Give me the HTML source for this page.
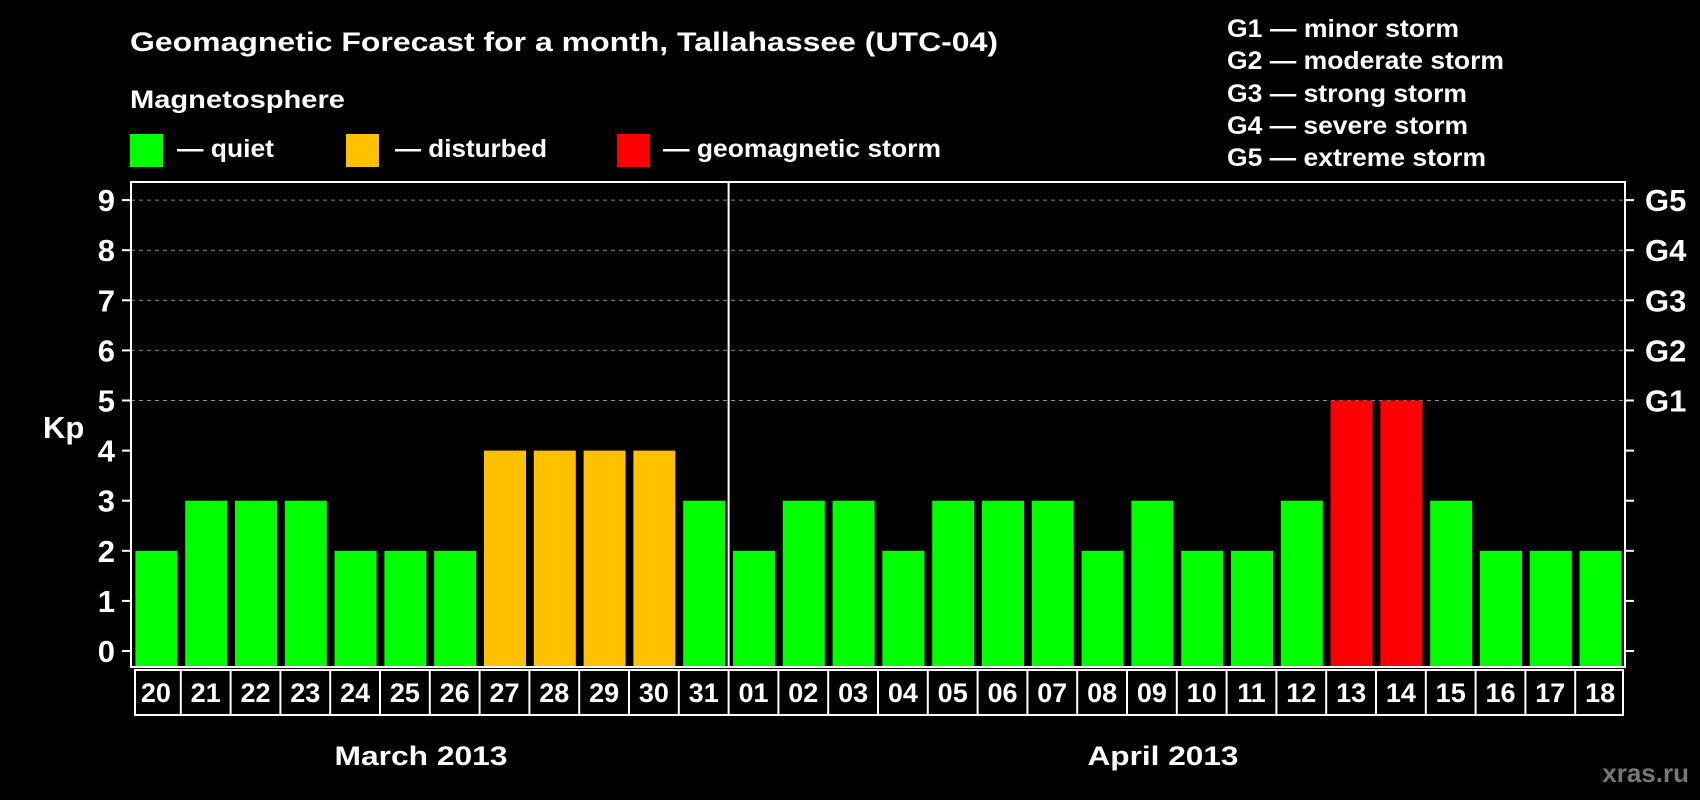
<!DOCTYPE html>
<html><head><meta charset="utf-8"><style>
html,body{margin:0;padding:0;background:#000;}
svg{display:block;font-family:"Liberation Sans",Arial,sans-serif;font-weight:bold;}
</style></head><body>
<svg id="chart" width="1700" height="800" viewBox="0 0 1700 800" xmlns="http://www.w3.org/2000/svg">
<rect width="1700" height="800" fill="#000"/>
<text x="130" y="51" font-size="27" fill="#fff" textLength="868" lengthAdjust="spacingAndGlyphs">Geomagnetic Forecast for a month, Tallahassee (UTC-04)</text>
<text x="130" y="108" font-size="25" fill="#fff" textLength="215" lengthAdjust="spacingAndGlyphs">Magnetosphere</text>
<g>
<rect x="130" y="134" width="33" height="33" fill="#00ff00"/>
<text x="177" y="157" font-size="25" fill="#fff" textLength="97" lengthAdjust="spacingAndGlyphs">— quiet</text></g>
<g>
<rect x="346" y="134" width="33" height="33" fill="#ffc000"/>
<text x="395" y="157" font-size="25" fill="#fff" textLength="152" lengthAdjust="spacingAndGlyphs">— disturbed</text></g>
<g>
<rect x="617" y="134" width="33" height="33" fill="#ff0000"/>
<text x="663" y="157" font-size="25" fill="#fff" textLength="278" lengthAdjust="spacingAndGlyphs">— geomagnetic storm</text></g>
<g font-size="25" fill="#fff">
<text x="1227" y="37" textLength="232" lengthAdjust="spacingAndGlyphs">G1 — minor storm</text>
<text x="1227" y="69" textLength="277" lengthAdjust="spacingAndGlyphs">G2 — moderate storm</text>
<text x="1227" y="102" textLength="240" lengthAdjust="spacingAndGlyphs">G3 — strong storm</text>
<text x="1227" y="134" textLength="241" lengthAdjust="spacingAndGlyphs">G4 — severe storm</text>
<text x="1227" y="166" textLength="259" lengthAdjust="spacingAndGlyphs">G5 — extreme storm</text>
</g>
<text x="43" y="438" font-size="31" fill="#fff">Kp</text>
<g id="plot"></g>
<text x="421" y="765" font-size="27" fill="#fff" text-anchor="middle" textLength="173" lengthAdjust="spacingAndGlyphs">March 2013</text>
<text x="1163" y="765" font-size="27" fill="#fff" text-anchor="middle" textLength="151" lengthAdjust="spacingAndGlyphs">April 2013</text>
<text x="1689" y="782" font-size="26" fill="#777" text-anchor="end">xras.ru</text>
</svg>
<script>
const days = ["20","21","22","23","24","25","26","27","28","29","30","31","01","02","03","04","05","06","07","08","09","10","11","12","13","14","15","16","17","18","19"].slice(0,30);
const kpValues = [2,3,3,3,2,2,2,4,4,4,4,3,2,3,3,2,3,3,3,2,3,2,2,3,5,5,3,2,2,2];
const yTicks = [0,1,2,3,4,5,6,7,8,9];
const gLabels = ["G1","G2","G3","G4","G5"];
const gLevels = [5,6,7,8,9];

const NS = "http://www.w3.org/2000/svg";
const plot = document.getElementById("plot");
const L = 131, R = 1625, T = 182, B = 667;
const pitch = (R - L) / days.length;
function y(v){ return 651 - 50.1 * v; }
function xs(i){ return L + i * pitch + (pitch - 42) / 2 + 0.5; }
function mk(tag, attrs){ const e = document.createElementNS(NS, tag); for (const k in attrs) e.setAttribute(k, attrs[k]); plot.appendChild(e); return e; }
function color(v){ return v >= 5 ? "#ff0000" : v >= 4 ? "#ffc000" : "#00ff00"; }

yTicks.forEach(v => {
  if (v >= 5) {
    const g = mk("line", {x1: L, x2: R, y1: y(v), y2: y(v), stroke: "#888", "stroke-width": 1, "stroke-dasharray": "4,4"});
    
    
  }
  const t1 = mk("line", {x1: L - 9, x2: L, y1: y(v), y2: y(v), stroke: "#fff", "stroke-width": 2});
  
  
  const t2 = mk("line", {x1: R, x2: R + 9, y1: y(v), y2: y(v), stroke: "#fff", "stroke-width": 2});
  
  
  const lab = mk("text", {x: 115, y: y(v) + 11, "font-size": 31, fill: "#fff", "text-anchor": "end"});
  lab.textContent = String(v);
  
  
});
gLabels.forEach((g, i) => {
  const t = mk("text", {x: 1645, y: y(gLevels[i]) + 11, "font-size": 31, fill: "#fff"});
  t.textContent = g;
  
  
});
kpValues.forEach((v, i) => {
  const b = mk("rect", {x: xs(i), y: y(v), width: 42, height: B - y(v), fill: color(v)});
  
  
});
const frame = mk("rect", {x: L, y: T, width: R - L, height: B - T, fill: "none", stroke: "#fff", "stroke-width": 2});


const div = mk("line", {x1: L + 12 * pitch, x2: L + 12 * pitch, y1: T, y2: B, stroke: "#fff", "stroke-width": 2});


const box = mk("rect", {x: 135, y: 670, width: 1623 - 135, height: 45, fill: "none", stroke: "#fff", "stroke-width": 2});


days.forEach((d, i) => {
  if (i > 0) {
    const s = mk("line", {x1: L + i * pitch, x2: L + i * pitch, y1: 670, y2: 715, stroke: "#fff", "stroke-width": 2});
    
    
  }
  const t = mk("text", {x: L + (i + 0.5) * pitch, y: 702, "font-size": 27, fill: "#fff", "text-anchor": "middle"});
  t.textContent = d;
  
  
});
</script>
</body></html>
